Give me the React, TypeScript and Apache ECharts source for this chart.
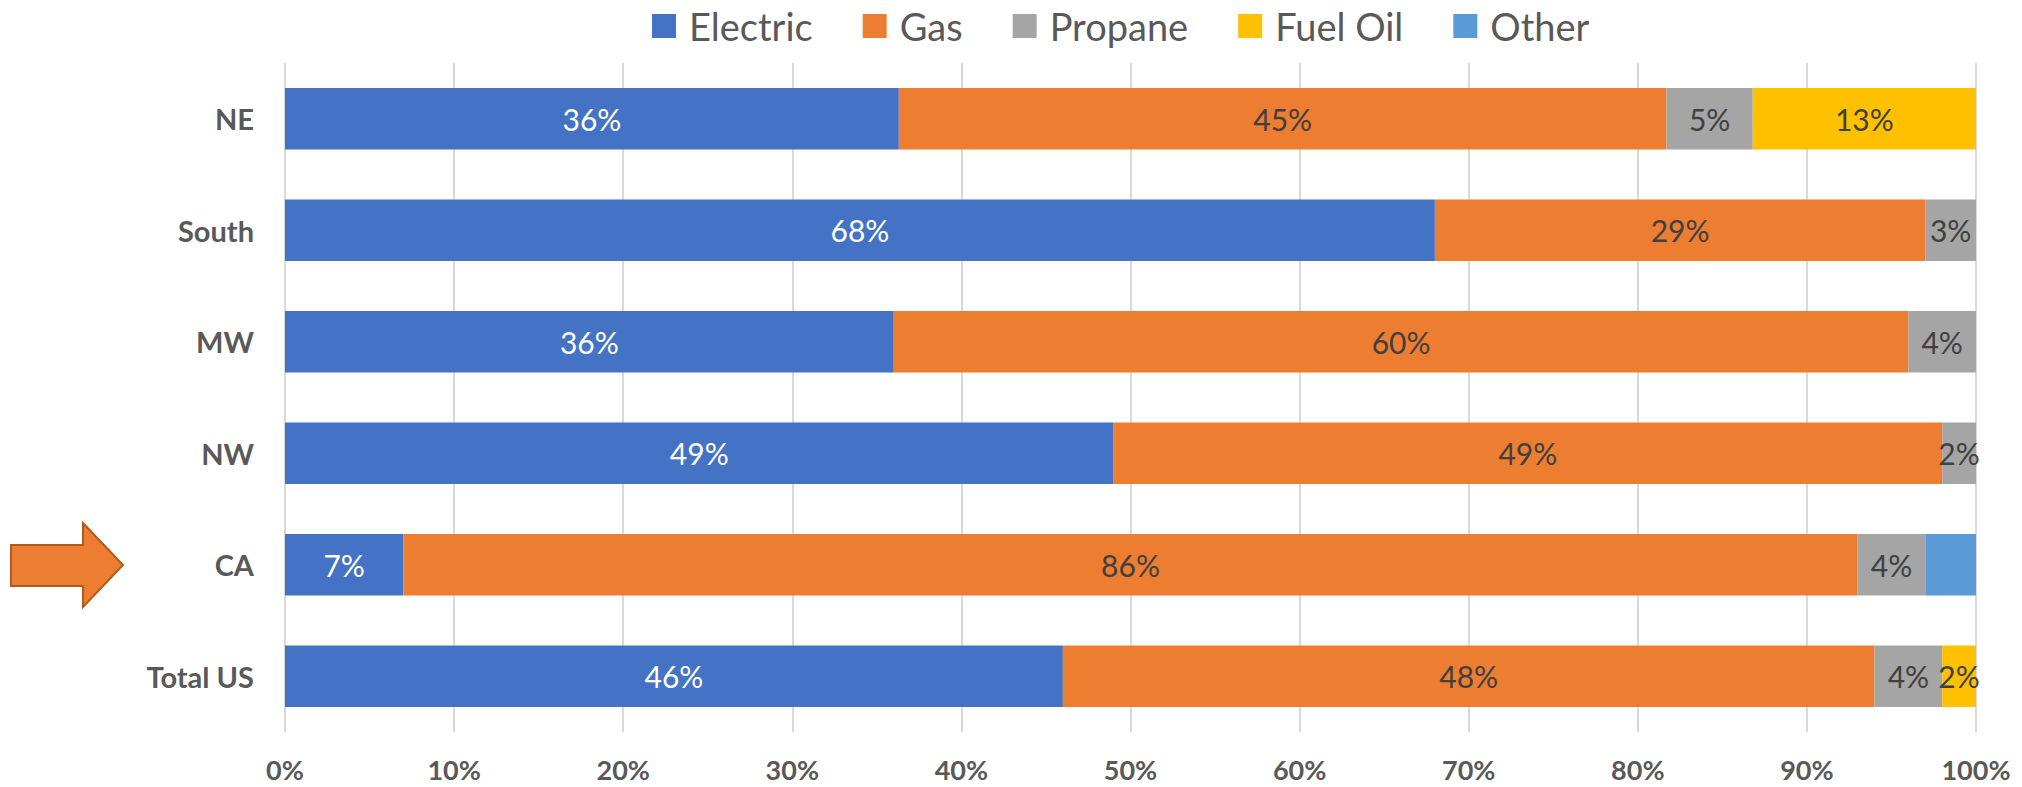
import React, { useEffect, useRef } from "react";
import * as echarts from "echarts";

// Regions, top to bottom
const regions = ["NE", "South", "MW", "NW", "CA", "Total US"];

// Share of households by main heating fuel, percent
const electric = [36.3, 68.0, 36.0, 49.0, 7.0, 46.0];
const gas = [45.4, 29.0, 60.0, 49.0, 86.0, 48.0];
const propane = [5.1, 3.0, 4.0, 2.0, 4.0, 4.0];
const fuelOil = [13.2, 0, 0, 0, 0, 2.0];
const other = [0, 0, 0, 0, 3.0, 0];

const seriesNames = ["Electric", "Gas", "Propane", "Fuel Oil", "Other"];
const seriesColors = ["#4472C4", "#ED7D31", "#A5A5A5", "#FFC000", "#5B9BD5"];
const labelColors = ["#FFFFFF", "#404040", "#404040", "#404040", "#404040"];
const showLabels = [true, true, true, true, false];

const tickLabels = ["0%", "10%", "20%", "30%", "40%", "50%", "60%", "70%", "80%", "90%", "100%"];

const FONT = "Lato, 'Open Sans', sans-serif";

export default function App() {
  const ref = useRef<HTMLDivElement>(null);

  useEffect(() => {
    if (!ref.current) return;
    const chart = echarts.init(ref.current, undefined, { renderer: "svg" });
    const values = [electric, gas, propane, fuelOil, other];

    chart.setOption({
      animation: false,
      backgroundColor: "#FFFFFF",
      textStyle: { fontFamily: FONT },
      legend: {
        left: 647,
        top: 2,
        itemWidth: 24,
        itemHeight: 24,
        itemGap: 50,
        icon: "rect",
        textStyle: {
          fontFamily: FONT,
          fontSize: 38,
          color: "#595959",
          padding: [0, 0, 0, 8],
        },
        data: seriesNames,
      },
      grid: { left: 285, right: 46, top: 63, bottom: 55, containLabel: false },
      xAxis: {
        type: "value",
        min: 0,
        max: 100,
        interval: 10,
        axisLine: { show: false },
        axisTick: { show: false },
        splitLine: { show: true, lineStyle: { color: "#D9D9D9", width: 2 } },
        axisLabel: {
          margin: 24,
          fontFamily: FONT,
          fontSize: 27,
          lineHeight: 27,
          fontWeight: "bold",
          color: "#595959",
          formatter: (v: number) => tickLabels[Math.round(v / 10)],
        },
      },
      yAxis: {
        type: "category",
        inverse: true,
        data: regions,
        axisLine: { show: false },
        axisTick: { show: false },
        axisLabel: {
          margin: 31,
          fontFamily: FONT,
          fontSize: 29,
          fontWeight: "bold",
          color: "#595959",
        },
      },
      series: seriesNames.map((name, i) => ({
        name,
        type: "bar",
        stack: "total",
        barWidth: "55%",
        itemStyle: { color: seriesColors[i] },
        label: {
          show: showLabels[i],
          position: "inside",
          fontFamily: FONT,
          fontSize: 30,
          color: labelColors[i],
          formatter: (p: any) => (p.value > 0 ? `${Math.round(p.value)}%` : ""),
        },
        data: values[i],
      })),
      graphic: [
        {
          type: "polygon",
          shape: {
            points: [
              [11, 545],
              [83, 545],
              [83, 523],
              [123, 565],
              [83, 607],
              [83, 586],
              [11, 586],
            ],
          },
          style: { fill: "#ED7D31", stroke: "#AE5A21", lineWidth: 2 },
        },
      ],
    });

    return () => chart.dispose();
  }, []);

  return (
    <div
      ref={ref}
      style={{ position: "fixed", left: 0, top: 0, width: 2022, height: 787 }}
    />
  );
}
